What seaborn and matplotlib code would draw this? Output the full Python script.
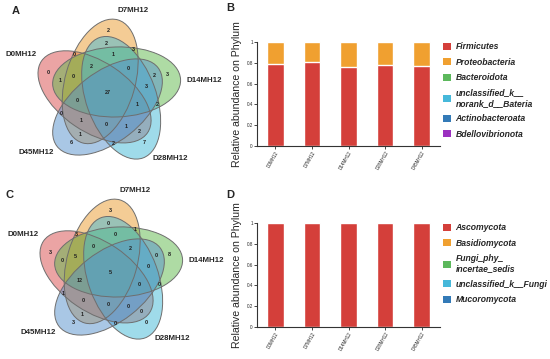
# Venn diagrams (5 sets) + stacked relative abundance bars
import numpy as np
import matplotlib
matplotlib.use('Agg')
import matplotlib.pyplot as plt
from matplotlib.patches import Ellipse, Patch
import seaborn as sns

set_names = ['D0MH12', 'D7MH12', 'D14MH12', 'D28MH12', 'D45MH12']
samples = ['D0MH12', 'D7MH12', 'D14MH12', 'D28MH12', 'D45MH12']

# venn regions (indices into set_names)
regions = [(0,), (1,), (2,), (3,), (4,),
           (0, 1), (1, 2), (2, 3), (3, 4), (0, 4),
           (0, 2), (1, 3), (2, 4), (0, 3), (1, 4),
           (0, 1, 2), (1, 2, 3), (2, 3, 4), (0, 3, 4), (0, 1, 4),
           (0, 1, 3), (1, 2, 4), (0, 2, 3), (1, 3, 4), (0, 2, 4),
           (0, 1, 2, 3), (1, 2, 3, 4), (0, 2, 3, 4), (0, 1, 3, 4), (0, 1, 2, 4),
           (0, 1, 2, 3, 4)]
counts_a = [0, 2, 3, 7, 6,
            0, 3, 2, 2, 0,
            1, 2, 2, 2, 1,
            0, 1, 3, 1, 1,
            0, 0, 1, 0, 0,
            2, 0, 1, 0, 0,
            27]
counts_c = [3, 3, 8, 0, 3,
            3, 1, 0, 0, 1,
            0, 0, 0, 0, 1,
            5, 0, 0, 0, 0,
            0, 1, 0, 0, 1,
            0, 2, 0, 0, 12,
            5]

bact_phyla = ['Firmicutes', 'Proteobacteria', 'Bacteroidota',
              'unclassified_k__\nnorank_d__Bateria', 'Actinobacteroata', 'Bdellovibrionota']
firmicutes = [0.79, 0.81, 0.76, 0.78, 0.77]
proteobacteria = [0.21, 0.19, 0.24, 0.22, 0.23]
bacteroidota = [0, 0, 0, 0, 0]
unclassified_bact = [0, 0, 0, 0, 0]
actinobacteroata = [0, 0, 0, 0, 0]
bdellovibrionota = [0, 0, 0, 0, 0]

fungi_phyla = ['Ascomycota', 'Basidiomycota', 'Fungi_phy_\nincertae_sedis',
               'unclassified_k__Fungi', 'Mucoromycota']
ascomycota = [1.0, 1.0, 1.0, 1.0, 1.0]
basidiomycota = [0, 0, 0, 0, 0]
fungi_incertae = [0, 0, 0, 0, 0]
unclassified_fungi = [0, 0, 0, 0, 0]
mucoromycota = [0, 0, 0, 0, 0]

venn_cols = ['#d94a4a', '#eb9b2d', '#5fb94b', '#41b9d7', '#5591cd']
bar_cols = ['#d43f3a', '#f0a030', '#5cb85c', '#46b8da', '#337ab7', '#9b30c0']

sns.set_style('white')
plt.rcParams['font.family'] = ['Liberation Sans', 'DejaVu Sans']


def venn5(ax, counts, label_off):
    a, b = 64, 35
    d, phi, psi = 14, 38, -12
    alpha = np.array([162, 90, 18, -54, -126]) - 4
    xs = np.arange(-110, 125, 0.5)
    ys = np.arange(-90, 95, 0.5)
    X, Y = np.meshgrid(xs, ys)
    M = np.zeros(X.shape, dtype=int)
    ells = []
    for i in range(5):
        cx = d * np.cos(np.radians(alpha[i] + phi))
        cy = d * np.sin(np.radians(alpha[i] + phi))
        th = np.radians(alpha[i] + psi)
        u = (X - cx) * np.cos(th) + (Y - cy) * np.sin(th)
        v = -(X - cx) * np.sin(th) + (Y - cy) * np.cos(th)
        M |= ((u / a) ** 2 + (v / b) ** 2 <= 1).astype(int) << i
        ells.append((cx, cy, np.degrees(th)))

    # depth of each grid point inside its region (rough erosion)
    depth = np.zeros(M.shape)
    inside = np.ones(M.shape, bool)
    for k in range(60):
        same = inside.copy()
        same[1:, :] &= (M[1:, :] == M[:-1, :]) & inside[:-1, :]
        same[:-1, :] &= (M[:-1, :] == M[1:, :]) & inside[1:, :]
        same[:, 1:] &= (M[:, 1:] == M[:, :-1]) & inside[:, :-1]
        same[:, :-1] &= (M[:, :-1] == M[:, 1:]) & inside[:, 1:]
        inside = same
        depth += inside

    for i, (cx, cy, ang) in enumerate(ells):
        ax.add_patch(Ellipse((cx, cy), 2 * a, 2 * b, angle=ang, fc=venn_cols[i],
                             alpha=0.5, ec='none'))
    for i, (cx, cy, ang) in enumerate(ells):
        ax.add_patch(Ellipse((cx, cy), 2 * a, 2 * b, angle=ang, fc='none',
                             ec='#6e6e6e', lw=0.7))

    for reg, n in zip(regions, counts):
        m = sum(1 << i for i in reg)
        sel = M == m
        if not sel.any():
            continue
        dd = np.where(sel, depth, -1)
        ok = dd >= 0.6 * dd.max()
        gx, gy = X[sel].mean(), Y[sel].mean()
        dist = np.where(ok, (X - gx) ** 2 + (Y - gy) ** 2, np.inf)
        j = np.argmin(dist)
        ax.text(X.flat[j], Y.flat[j], str(n), fontsize=4, fontweight='bold',
                color='#222222', ha='center', va='center')

    for i, name in enumerate(set_names):
        ax.text(label_off[i][0], label_off[i][1], name, fontsize=5.7,
                fontweight='bold', ha='center', va='center')
    ax.set_xlim(-108, 122)
    ax.set_ylim(-87, 93)
    ax.axis('off')


def stacked(ax, layers, names, cols, legend_top):
    cum = np.cumsum(np.array(layers), axis=0)
    for k in range(len(layers) - 1, -1, -1):
        sns.barplot(x=samples, y=cum[k], color=cols[k], saturation=1,
                    width=0.45, errorbar=None, ax=ax)
    ax.set_xlim(-0.5, 4.5)
    ax.set_ylim(0, 1)
    ax.set_yticks([0, 0.2, 0.4, 0.6, 0.8, 1])
    ax.set_yticklabels(['0', '0.2', '0.4', '0.6', '0.8', '1'])
    ax.tick_params(axis='both', labelsize=3.3, length=2, width=0.6, pad=1,
                   direction='out', bottom=True, left=True)
    for lab in ax.get_xticklabels():
        lab.set_rotation(60)
        lab.set_ha('right')
        lab.set_rotation_mode('anchor')
    sns.despine(ax=ax)
    ax.spines['left'].set_linewidth(0.8)
    ax.spines['bottom'].set_linewidth(0.8)
    ax.spines['left'].set_color('#333333')
    ax.spines['bottom'].set_color('#333333')
    ax.set_xlabel('')
    ax.set_ylabel('Relative abundance on Phylum', fontsize=7.6, labelpad=3)
    handles = [Patch(fc=cols[k], ec='none') for k in range(len(names))]
    ax.legend(handles, names, loc='upper left', bbox_to_anchor=(1.0, legend_top),
              frameon=False, handlelength=0.85, handleheight=0.9,
              handletextpad=0.55, labelspacing=0.74, borderaxespad=0,
              prop={'size': 6.2, 'weight': 'bold', 'style': 'italic'})


fig = plt.figure(figsize=(5.5, 3.59), dpi=100)
W, H = 550.0, 359.0

off = [(-87, 38), (25, 82), (96, 12), (62, -66), (-72, -60)]
ax_a = fig.add_axes([0, (H - 180) / H, 230 / W, 180 / H])
venn5(ax_a, counts_a, off)
ax_c = fig.add_axes([2 / W, (H - 360) / H, 230 / W, 180 / H])
venn5(ax_c, counts_c, off)

ax_b = fig.add_axes([257 / W, (H - 146) / H, 183 / W, 104 / H])
stacked(ax_b, [firmicutes, proteobacteria, bacteroidota, unclassified_bact,
               actinobacteroata, bdellovibrionota], bact_phyla, bar_cols, 1.03)
ax_d = fig.add_axes([257 / W, (H - 327) / H, 183 / W, 104 / H])
stacked(ax_d, [ascomycota, basidiomycota, fungi_incertae, unclassified_fungi,
               mucoromycota], fungi_phyla, bar_cols[:5], 1.03)

for t, x, y in [('A', 16, 11), ('B', 230, 8), ('C', 10, 195), ('D', 230, 195)]:
    fig.text(x / W, 1 - y / H, t, fontsize=8, fontweight='bold', ha='center', va='center')

fig.savefig('out.png', dpi=100)
